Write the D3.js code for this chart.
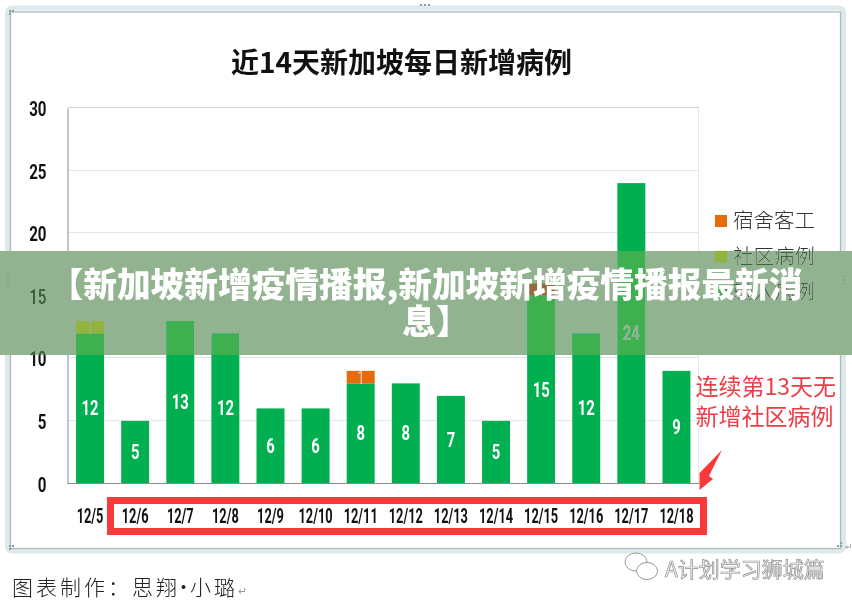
<!DOCTYPE html>
<html lang="zh">
<head>
<meta charset="utf-8">
<title>近14天新加坡每日新增病例</title>
<script src="https://cdn.jsdelivr.net/npm/d3@7/dist/d3.min.js"></script>
<style>
  html, body { margin: 0; padding: 0; background: #fff; }
  svg { display: block; background: #fff; }
  text { font-family: "Noto Sans CJK SC", "Noto Sans", sans-serif; }
  .num { font-family: "Roboto", "Liberation Sans", sans-serif; font-weight: 700; }
</style>
</head>
<body>
<svg id="chart" width="852" height="606"></svg>
<script>
// Daily case counts for the last 14 days
const days = ["12/5","12/6","12/7","12/8","12/9","12/10","12/11","12/12","12/13","12/14","12/15","12/16","12/17","12/18"];
const importedCases  = [12,5,13,12,6,6,8,8,7,5,15,12,24,9];
const communityCases = [1,0,0,0,0,0,0,0,0,0,0,0,0,0];
const dormitoryCases = [0,0,0,0,0,0,1,0,0,0,1,0,0,0];
const yTicks = [0,5,10,15,20,25,30];
const seriesNames = ["输入病例","社区病例","宿舍客工"];
const seriesColors = ["#00b050","#c6cf32","#e46c0a"];
const legendOrder = ["宿舍客工","社区病例","输入病例"];
const titleText = "近14天新加坡每日新增病例";
const bannerLines = ["【新加坡新增疫情播报,新加坡新增疫情播报最新消","息】"];
const noteLines = ["连续第13天无","新增社区病例"];
const creditParts = ["图表制作\uFF1A思翔","•","小璐"];
const watermarkText = "A计划学习狮城篇";

const svg = d3.select("#chart");

// Text-box style frame around the chart
svg.append("rect").attr("x",7.5).attr("y",8).attr("width",836).attr("height",543).attr("rx",4)
  .attr("fill","#fff").attr("stroke","#dde9eb").attr("stroke-width",5);
svg.append("rect").attr("x",10.5).attr("y",12).attr("width",830).attr("height",536.5)
  .attr("fill","#fff").attr("stroke","#a9bcc0").attr("stroke-width",1.3);
const handles = [[10,11],[13,11],[10,14],[8,280],[8,284],[8,276],[844,280],[844,284],[844,276],[425,5],[421,5],[429,5],[10,546],[13,546],[10,549],[838,546],[841,546],[841,543]];
svg.append("g").selectAll("rect").data(handles).join("rect")
  .attr("x",d=>d[0]-1).attr("y",d=>d[1]-1).attr("width",2).attr("height",2).attr("fill","#8d9c9e");

// Scales
const x = d3.scaleBand().domain(days).range([67.5,699]).paddingInner(0.38).paddingOuter(0.19);
const y = d3.scaleLinear().domain([0,30]).range([483.5,108]);

// Gridlines
svg.append("g").selectAll("line").data(yTicks.filter(d=>d>0)).join("line")
  .attr("x1",x.range()[0]).attr("x2",x.range()[1])
  .attr("y1",d=>Math.round(y(d))-0.5).attr("y2",d=>Math.round(y(d))-0.5)
  .attr("stroke",d=>d===30?"#c9d6da":"#e3e6ea").attr("stroke-width",1);
svg.append("line").attr("x1",698.5).attr("x2",698.5).attr("y1",y(30)).attr("y2",y(0)).attr("stroke","#e3e6ea");

// Stacked bars with a centred value in each segment
const rows = days.map((d,i)=>({day:d, "输入病例":importedCases[i], "社区病例":communityCases[i], "宿舍客工":dormitoryCases[i]}));
const stacked = d3.stack().keys(seriesNames)(rows);
const color = d3.scaleOrdinal().domain(seriesNames).range(seriesColors);
const layers = svg.append("g").selectAll("g").data(stacked).join("g").attr("fill",d=>color(d.key));
layers.selectAll("rect").data(d=>d.filter(p=>p[1]>p[0])).join("rect")
  .attr("x",d=>x(d.data.day)).attr("width",x.bandwidth())
  .attr("y",d=>y(d[1])).attr("height",d=>y(d[0])-y(d[1]));
layers.selectAll("text").data(d=>d.filter(p=>p[1]>p[0])).join("text")
  .attr("class","num")
  .attr("transform",d=>`translate(${x(d.data.day)+x.bandwidth()/2},${(y(d[0])+y(d[1]))/2+7}) scale(0.76,1)`)
  .attr("text-anchor","middle").attr("fill","#fff")
  .attr("font-size",d=>d[1]-d[0]===1?18:19.5)
  .style("font-weight",d=>d[1]-d[0]===1?300:700)
  .text(d=>d[1]-d[0]);

// Axes
const yAxis = svg.append("g").attr("transform","translate(67.5,0)")
  .call(d3.axisLeft(y).tickValues(yTicks).tickSize(0));
yAxis.select(".domain").attr("stroke","#8b8b8b");
yAxis.selectAll("text").attr("class","num").attr("fill","#111").attr("font-size",21)
  .attr("font-weight",500)
  .attr("x",0).attr("dy","0.36em").attr("text-anchor","end")
  .attr("transform","translate(-21,0) scale(0.72,1)");

const xAxis = svg.append("g").attr("transform","translate(0,483)")
  .call(d3.axisBottom(x).tickSize(0));
xAxis.select(".domain").attr("stroke","#8b8b8b").attr("d","M67.5,0.5H699");
xAxis.selectAll("text").attr("class","num").attr("fill","#111").attr("font-size",20)
  .attr("font-weight",500)
  .attr("y",0).attr("dy",0)
  .attr("transform","translate(0,40) scale(0.64,1)");

// Title
svg.append("text").attr("x",401.5).attr("y",72.5).attr("text-anchor","middle")
  .attr("font-size",28).attr("font-weight",700).attr("fill","#111").text(titleText);

// Legend
const legend = svg.append("g").selectAll("g").data(legendOrder).join("g")
  .attr("transform",(d,i)=>`translate(715,${215+i*35.7})`);
legend.append("rect").attr("width",12).attr("height",12).attr("fill",d=>color(d));
legend.append("text").attr("x",18).attr("y",13).attr("font-size",20.5).attr("font-weight",300)
  .attr("fill","#333").text(d=>d);

// Highlight box over the date labels with no community cases
svg.append("rect").attr("x",110.5).attr("y",500.5).attr("width",593).attr("height",31)
  .attr("fill","none").attr("stroke","#f93a3c").attr("stroke-width",7);

// Pointer towards the highlight box
svg.append("path").attr("d",d3.line()([[722,450],[699.5,473],[699.5,490],[713,479],[709,476]])+"Z").attr("fill","#f93a3c");

// Callout
svg.append("g").selectAll("text").data(noteLines).join("text")
  .attr("x",695.5).attr("y",(d,i)=>395+i*30).attr("font-size",23).attr("fill","#ee3b45").text(d=>d);

// Footer credit and paragraph marks
const credit = svg.append("text").attr("x",12).attr("y",595).attr("font-size",21).attr("letter-spacing",3)
  .attr("font-weight",300).attr("fill","#222");
credit.selectAll("tspan").data(creditParts).join("tspan")
  .attr("dx",(d,i)=>i===0?0:-7).text(d=>d);
svg.append("text").attr("x",238).attr("y",595).attr("font-size",11).attr("fill","#999").text("↵");
svg.append("text").attr("x",845).attr("y",550).attr("font-size",9).attr("fill","#999").text("↵");

// Account watermark
const mark = svg.append("g").attr("fill","#fff").attr("stroke","#9a9a9a").attr("stroke-width",1);
mark.append("ellipse").attr("cx",636).attr("cy",562).attr("rx",11).attr("ry",9);
mark.append("ellipse").attr("cx",647).attr("cy",571).attr("rx",10.5).attr("ry",8.5);
svg.append("text").attr("x",665).attr("y",577).attr("font-size",21)
  .attr("fill","#f6f6f6").attr("stroke","#8f8f8f").attr("stroke-width",0.7).text(watermarkText);

// Headline band laid across the chart: caps the highlights and lifts the shadows
svg.append("rect").attr("x",0).attr("y",251).attr("width",852).attr("height",104)
  .attr("fill","rgb(146,179,143)").style("mix-blend-mode","darken");
svg.append("rect").attr("x",0).attr("y",251).attr("width",852).attr("height",104)
  .attr("fill","rgb(62,100,62)").style("mix-blend-mode","lighten");
svg.append("g").selectAll("text").data(bannerLines).join("text")
  .attr("x",(d,i)=>i===0?426:436).attr("y",(d,i)=>297+i*37).attr("text-anchor","middle")
  .attr("font-size",33.7).attr("font-weight",900).attr("fill","#fff").text(d=>d);
</script>
</body>
</html>
